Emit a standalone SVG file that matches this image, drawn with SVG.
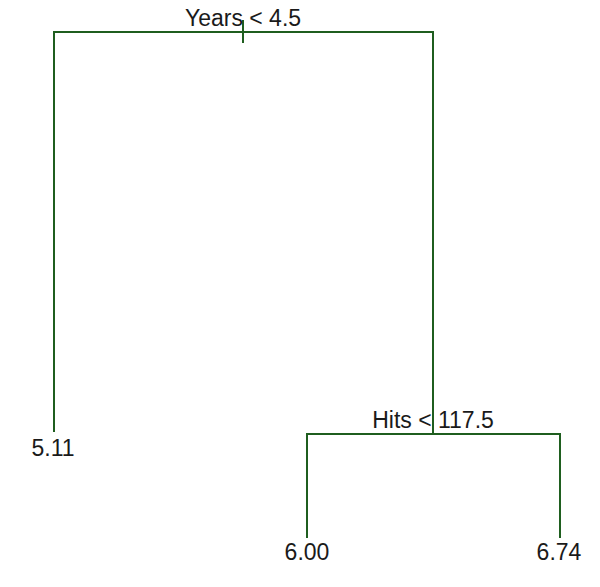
<svg xmlns="http://www.w3.org/2000/svg" width="600" height="587" viewBox="0 0 600 587">
<style>
.e{stroke:#1f5e1f;stroke-width:2;fill:none}
.t{font-family:"Liberation Sans",Arial,sans-serif;font-size:23px;fill:#1a1a1a;text-anchor:middle}
</style>
<rect width="600" height="587" fill="#fff"/>
<g id="connectors">
<path class="e" d="M54,432 V32 H433 V434"/>
<path class="e" d="M307,538 V434 H560 V538"/>
<path class="e" d="M243,20 V43"/>
</g>
<g id="node-root"><text class="t" x="243" y="26">Years &lt; 4.5</text></g>
<g id="node-hits"><text class="t" x="433" y="428">Hits &lt; 117.5</text></g>
<g id="leaf-511"><text class="t" x="53" y="456">5.11</text></g>
<g id="leaf-600"><text class="t" x="307" y="560">6.00</text></g>
<g id="leaf-674"><text class="t" x="559" y="560">6.74</text></g>
</svg>
